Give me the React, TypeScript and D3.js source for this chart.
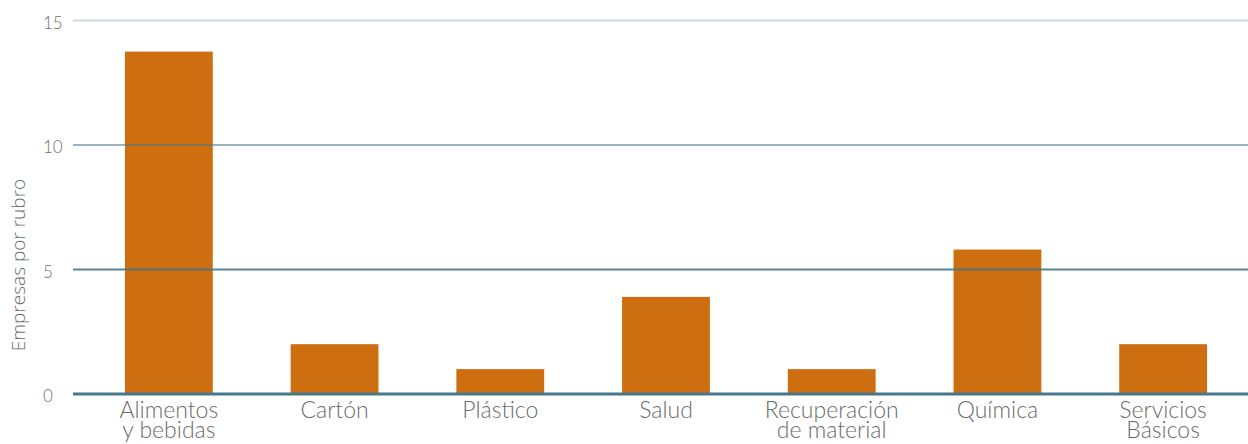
import { useEffect, useRef } from "react";
import * as d3 from "d3";

const categories = [
  ["Alimentos", "y bebidas"],
  ["Cartón"],
  ["Plástico"],
  ["Salud"],
  ["Recuperación", "de material"],
  ["Química"],
  ["Servicios", "Básicos"],
];
const values = [13.75, 2, 1, 3.9, 1, 5.8, 2];
const yTicks = [0, 5, 10, 15];
const yTitle = "Empresas por rubro";

const width = 1248;
const height = 444;

export default function App() {
  const ref = useRef<SVGSVGElement>(null);

  useEffect(() => {
    document.body.style.margin = "0";
    const svg = d3.select(ref.current);
    svg.selectAll("*").remove();

    const names = categories.map((c) => c.join(" "));
    const x = d3
      .scaleBand()
      .domain(names)
      .range([86, 1246])
      .paddingInner(0.47)
      .paddingOuter(0.235);
    const y = d3.scaleLinear().domain([0, 15]).range([394, 20.5]);

    // bars
    svg
      .append("g")
      .selectAll("rect")
      .data(values)
      .join("rect")
      .attr("x", (d, i) => x(names[i])!)
      .attr("width", x.bandwidth())
      .attr("y", (d) => y(d))
      .attr("height", (d) => y(0) - y(d))
      .attr("fill", "#cd6e10");

    // grid lines, drawn over the bars
    const opac: Record<number, number> = { 0: 1, 5: 0.9, 10: 0.55, 15: 0.27 };
    svg
      .append("g")
      .selectAll("line")
      .data(yTicks)
      .join("line")
      .attr("x1", 73)
      .attr("x2", width)
      .attr("y1", (d) => y(d))
      .attr("y2", (d) => y(d))
      .attr("stroke", "#47778b")
      .attr("stroke-opacity", (d) => opac[d])
      .attr("stroke-width", (d) => (d === 0 ? 3 : 2.2));

    // tick labels
    svg
      .append("g")
      .selectAll("text")
      .data(yTicks)
      .join("text")
      .attr("x", 43)
      .attr("y", (d) => y(d) + 4)
      .attr("dominant-baseline", "middle")
      .attr("font-family", "Lato, sans-serif")
      .attr("font-weight", 300)
      .attr("font-size", 17)
      .attr("fill", "#707070")
      .text((d) => d);

    // category labels
    const lab = svg
      .append("g")
      .selectAll("text")
      .data(categories)
      .join("text")
      .attr("x", (d, i) => x(names[i])! + x.bandwidth() / 2)
      .attr("y", 418)
      .attr("text-anchor", "middle")
      .attr("font-family", "Lato, sans-serif")
      .attr("font-weight", 300)
      .attr("font-size", 23)
      .attr("fill", "#6b6b6b");
    lab
      .selectAll("tspan")
      .data((d) => d)
      .join("tspan")
      .attr("x", function () {
        return (this.parentNode as SVGTextElement).getAttribute("x");
      })
      .attr("dy", (d, i) => (i === 0 ? 0 : 20))
      .text((d) => d);

    // y axis title
    svg
      .append("text")
      .attr("transform", "translate(25,265) rotate(-90)")
      .attr("text-anchor", "middle")
      .attr("font-family", "'Open Sans', sans-serif")
      .attr("font-weight", 300)
      .attr("font-size", 19)
      .attr("fill", "#6b6b6b")
      .text(yTitle);
  }, []);

  return <svg ref={ref} width={width} height={height} style={{ display: "block" }} />;
}
